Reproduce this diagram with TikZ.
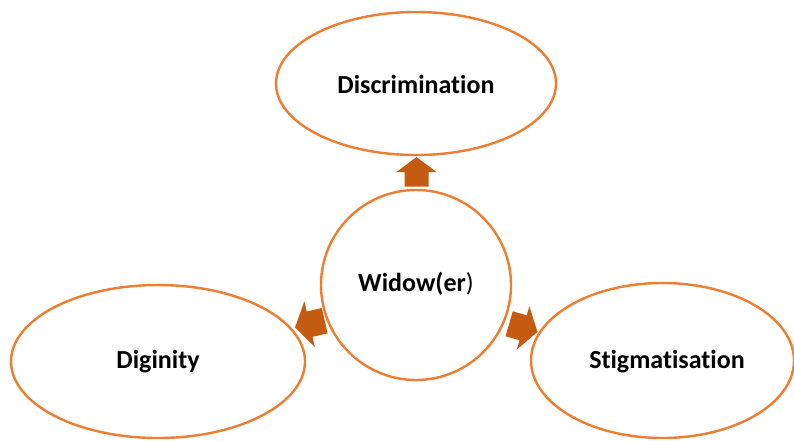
\documentclass[tikz,border=0pt]{standalone}
\usepackage{fontspec}
\setmainfont[Ligatures=NoCommon]{Carlito}
\definecolor{ringorange}{HTML}{ED7D31}
\definecolor{arroworange}{HTML}{C55A11}
\begin{document}
\begin{tikzpicture}[x=1pt,y=-1pt,
  bubble/.style={draw=ringorange,line width=2.4pt,fill=white},
  lbl/.style={font=\fontsize{26}{30}\selectfont\bfseries,inner sep=0pt},
  blockarrow/.style={fill=arroworange,draw=none}]
\useasboundingbox (0,0) rectangle (794,440);
% ellipses and circle
\draw[bubble] (416,83.5) ellipse [x radius=140,y radius=71.5];
\draw[bubble] (416,285) circle [radius=95];
\draw[bubble] (158,361.5) ellipse [x radius=147,y radius=76.5];
\draw[bubble] (662.5,360.5) ellipse [x radius=131.5,y radius=77.5];
% labels
\node[lbl] (disc) at (416,84) {Discrimination};
\node[lbl] (wid) at (416,284) {Widow(er\textmd{)}};
\node[lbl] (dig) at (158,362) {Diginity};
\node[lbl] (stig) at (667,362) {Stigmatisation};
% block arrows (tip at origin, pointing along +x before rotation)
\coordinate (tipTop) at (416.5,157);
\coordinate (tipLeft) at (295,327.5);
\coordinate (tipRight) at (537.5,332);
\begin{scope}[shift={(tipTop)},rotate=90]
  \fill[blockarrow] (0,0) -- (-15,20) -- (-15,12) -- (-29.5,12) -- (-29.5,-12) -- (-15,-12) -- (-15,-20) -- cycle;
\end{scope}
\begin{scope}[shift={(tipLeft)},rotate=192.9]
  \fill[blockarrow] (0,0) -- (-15,23.5) -- (-15,13) -- (-30.5,13) -- (-30.5,-13) -- (-15,-13) -- (-15,-23.5) -- cycle;
\end{scope}
\begin{scope}[shift={(tipRight)},rotate=-16.2]
  \fill[blockarrow] (0,0) -- (-15,22.5) -- (-15,13) -- (-29.5,13) -- (-29.5,-13) -- (-15,-13) -- (-15,-22.5) -- cycle;
\end{scope}
\end{tikzpicture}
\end{document}
